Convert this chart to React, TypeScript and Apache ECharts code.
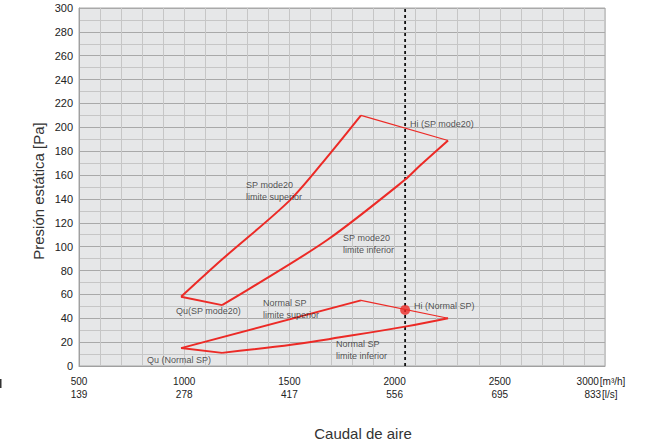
import React, { useEffect, useRef } from "react";
import * as echarts from "echarts";

const xTicksM3h = [500, 1000, 1500, 2000, 2500, 3000];
const xTicksLs = [139, 278, 417, 556, 695, 833];

const sp20Upper = [[985, 58], [1178, 89], [1503, 139], [1693, 178], [1840, 210]];
const sp20Top = [[1840, 210], [2254, 189]];
const sp20Lower = [[2254, 189], [2121, 168], [2049, 156], [1683, 106], [1313, 65], [1180, 51]];
const sp20Qu = [[1180, 51], [985, 58]];

const normUpper = [[985, 15], [1840, 55]];
const normTop = [[1840, 55], [2254, 40]];
const normLower = [[2254, 40], [2049, 33], [1740, 24], [1517, 18], [1180, 11]];
const normQu = [[1180, 11], [985, 15]];

const hiNormal = [[2050, 47]];
const hiLine = [[2050, 0], [2050, 300]];

const annotations = [
  { pos: [1294, 147], text: "SP mode20\nlimite superior" },
  { pos: [1755, 102], text: "SP mode20\nlimite inferior" },
  { pos: [2073, 203], text: "Hi (SP mode20)" },
  { pos: [961, 46], text: "Qu(SP mode20)" },
  { pos: [1375, 48], text: "Normal SP\nlimite superior" },
  { pos: [2092, 50], text: "Hi (Normal SP)" },
  { pos: [1721, 13], text: "Normal SP\nlimite inferior" },
  { pos: [823, 5], text: "Qu (Normal SP)" },
];

const RED = "#ec2a26";
const FONT = "Liberation Sans, Arial, sans-serif";

export default function App() {
  const ref = useRef<HTMLDivElement>(null);
  useEffect(() => {
    const chart = echarts.init(ref.current!, null, { renderer: "svg" });
    const thick = (data: number[][], smooth = 0) => ({
      type: "line",
      data,
      smooth,
      showSymbol: false,
      symbol: "none",
      lineStyle: { color: RED, width: 2 },
      silent: true,
    });
    const thin = (data: number[][]) => ({
      type: "line",
      data,
      symbol: "none",
      lineStyle: { color: RED, width: 1.2 },
      silent: true,
    });
    chart.setOption({
      animation: false,
      backgroundColor: "#ffffff",
      textStyle: { fontFamily: FONT },
      grid: {
        left: 79,
        top: 8,
        right: 53,
        bottom: 80,
        show: true,
        backgroundColor: "#e6e7e8",
        borderColor: "#a8a8a8",
        borderWidth: 1,
      },
      xAxis: {
        type: "value",
        min: 500,
        max: 3000,
        interval: 100,
        axisLine: { show: true, lineStyle: { color: "#a0a0a0", width: 1 } },
        axisTick: { show: false },
        splitLine: { show: true, lineStyle: { color: "#c6c6c6", width: 1 } },
        axisLabel: {
          margin: 9,
          fontSize: 10,
          lineHeight: 13,
          color: "#222",
          fontFamily: FONT,
          formatter: (v: number) => {
            const i = xTicksM3h.indexOf(v);
            if (i < 0) return "";
            if (v === 3000) return `{a|${v}}{u|[m³/h]}\n{a|${xTicksLs[i]}}{u|[l/s]}`;
            return `{a|${v}}\n{a|${xTicksLs[i]}}`;
          },
          rich: {
            a: { fontSize: 10, lineHeight: 13, color: "#222", fontFamily: FONT },
            u: { fontSize: 10, lineHeight: 13, color: "#222", fontFamily: FONT, padding: [0, 8, 0, 1] },
          },
        },
      },
      yAxis: {
        type: "value",
        min: 0,
        max: 300,
        interval: 10,
        axisLine: { show: true, lineStyle: { color: "#a0a0a0", width: 1 } },
        axisTick: { show: false },
        splitLine: { show: true, lineStyle: { color: ["#a9a9a9", "#c6c6c6"], width: 1 } },
        axisLabel: {
          margin: 6,
          fontSize: 11,
          color: "#222",
          fontFamily: FONT,
          formatter: (v: number) => (v % 20 === 0 ? String(v) : ""),
        },
      },
      graphic: [
        {
          type: "text",
          x: 38,
          y: 191,
          rotation: Math.PI / 2,
          style: {
            text: "Presión estática [Pa]",
            fontSize: 15,
            fontFamily: FONT,
            fill: "#333",
            align: "center",
            verticalAlign: "middle",
          },
        },
        {
          type: "text",
          x: 363,
          y: 433,
          style: {
            text: "Caudal de aire",
            fontSize: 15,
            fontFamily: FONT,
            fill: "#333",
            align: "center",
            verticalAlign: "middle",
          },
        },
        { type: "rect", shape: { x: 0, y: 379, width: 1.5, height: 9 }, style: { fill: "#333" } },
      ],
      series: [
        {
          type: "line",
          data: hiLine,
          symbol: "none",
          lineStyle: { color: "#111", width: 1.8, type: [3, 3] },
          silent: true,
          z: 3,
        },
        thick(sp20Upper, 0.3),
        thin(sp20Top),
        thick(sp20Lower, 0.3),
        thick(sp20Qu),
        thick(normUpper),
        thin(normTop),
        thick(normLower, 0.4),
        thick(normQu),
        {
          type: "scatter",
          data: hiNormal,
          symbol: "circle",
          symbolSize: 10,
          itemStyle: { color: RED },
          silent: true,
          z: 4,
        },
        {
          type: "scatter",
          data: annotations.map((a) => ({ value: a.pos, label: { formatter: a.text } })),
          symbolSize: 0,
          silent: true,
          z: 5,
          label: {
            show: true,
            position: "right",
            distance: 0,
            fontSize: 9,
            lineHeight: 12,
            color: "#2a2a2a",
            fontFamily: FONT,
            align: "left",
            verticalAlign: "middle",
          },
        },
      ],
    });
    return () => chart.dispose();
  }, []);
  return (
    <div
      ref={ref}
      style={{ position: "fixed", left: 0, top: 0, width: 658, height: 446 }}
    />
  );
}
